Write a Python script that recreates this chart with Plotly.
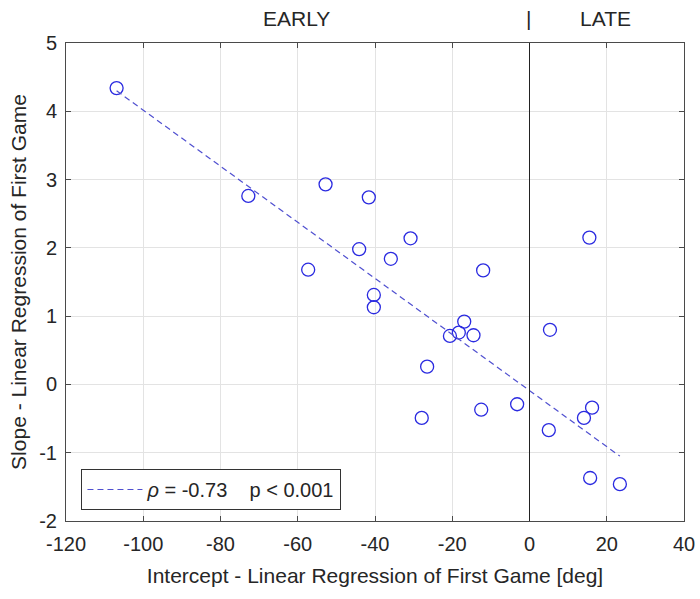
import plotly.graph_objects as go

intercept_deg = [-106.9, -72.8, -52.8, -41.6, -57.3, -44.1, -35.9, -30.8, -40.3, -40.3,
                 -12.0, -16.9, -20.6, -18.3, -14.5, -26.5, -27.9, -12.5, -3.2,
                 15.5, 5.3, 5.0, 14.1, 16.2, 15.7, 23.4]
slope_vals = [4.34, 2.76, 2.93, 2.74, 1.68, 1.98, 1.84, 2.14, 1.31, 1.13,
              1.67, 0.92, 0.71, 0.76, 0.72, 0.26, -0.49, -0.37, -0.29,
              2.15, 0.80, -0.67, -0.49, -0.34, -1.37, -1.46]
fit_x = [-106.9, 23.4]
fit_y = [4.30, -1.05]
x_ticks = [-120, -100, -80, -60, -40, -20, 0, 20, 40]
x_tick_text = ["-120", "-100", "-80", "-60", "-40", "-20", "0", "20", "40"]
y_ticks = [-2, -1, 0, 1, 2, 3, 4, 5]
y_tick_text = ["-2", "-1", "0", "1", "2", "3", "4", "5"]
legend_label = "<i>ρ</i> = -0.73\u00a0\u00a0\u00a0\u00a0p < 0.001"

FONT = "Liberation Sans, Arial, sans-serif"
TXT = "#262626"

fig = go.Figure()
fig.add_trace(go.Scatter(
    x=intercept_deg, y=slope_vals, mode="markers",
    marker=dict(symbol="circle-open", size=13, color="#2a2ae0", line=dict(width=1.3, color="#2a2ae0")),
    showlegend=False, hoverinfo="skip"))
fig.add_trace(go.Scatter(
    x=fit_x, y=fit_y, mode="lines",
    line=dict(color="#5050d0", width=1.2, dash="6px,4px"),
    name=legend_label, showlegend=True))

fig.add_vline(x=0, line=dict(color="#222222", width=1))

for xpos, label in [(-60.2, "EARLY"), (-0.3, "|"), (19.8, "LATE")]:
    fig.add_annotation(x=xpos, y=1.052, xref="x", yref="paper", text=label, showarrow=False,
                       font=dict(size=21, color=TXT, family=FONT), yanchor="middle")

axis_common = dict(showgrid=True, gridcolor="#e3e3e3", gridwidth=1, zeroline=False,
                   showline=True, linecolor="#4a4a4a", linewidth=1, mirror="allticks",
                   ticks="inside", ticklen=5, tickcolor="#4a4a4a", automargin=False,
                   tickfont=dict(size=20, color=TXT, family=FONT))

fig.update_layout(
    width=700, height=599,
    margin=dict(l=66, r=16, t=43, b=78),
    paper_bgcolor="white", plot_bgcolor="white",
    font=dict(family=FONT, color=TXT),
    xaxis=dict(range=[-120, 40], tickvals=x_ticks, ticktext=x_tick_text, ticklabelstandoff=5,
               title=dict(text="Intercept - Linear Regression of First Game [deg]",
                          font=dict(size=21, color=TXT, family=FONT), standoff=14),
               **axis_common),
    yaxis=dict(range=[-2, 5], tickvals=y_ticks, ticktext=y_tick_text, ticklabelstandoff=4,
               title=dict(text="Slope - Linear Regression of First Game",
                          font=dict(size=21, color=TXT, family=FONT), standoff=6),
               **axis_common),
    legend=dict(x=0.025, y=0.023, xanchor="left", yanchor="bottom",
                bordercolor="#333333", borderwidth=1, bgcolor="white",
                font=dict(size=20, color=TXT, family=FONT), itemwidth=55,
                tracegroupgap=0),
)

fig.write_html("out.html")
